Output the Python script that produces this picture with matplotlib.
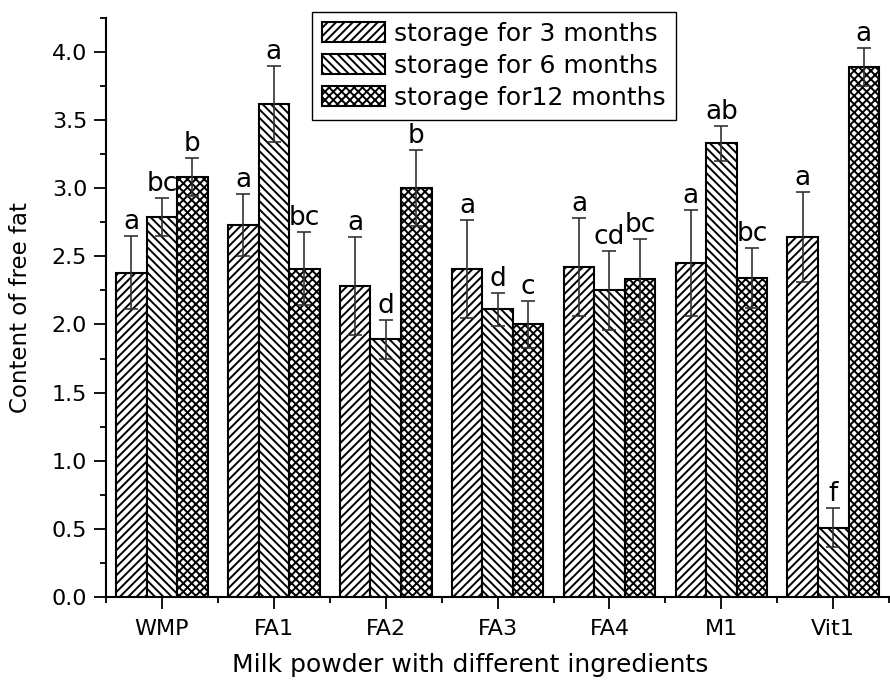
import matplotlib
matplotlib.use("Agg")
import matplotlib.pyplot as plt
from matplotlib.ticker import MultipleLocator, FixedLocator, FormatStrFormatter
import numpy as np

# data
samples = ["WMP", "FA1", "FA2", "FA3", "FA4", "M1", "Vit1"]
series_labels = ["storage for 3 months", "storage for 6 months", "storage for12 months"]

fat_3m = [2.38, 2.73, 2.28, 2.41, 2.42, 2.45, 2.64]
fat_6m = [2.79, 3.62, 1.89, 2.11, 2.25, 3.33, 0.51]
fat_12m = [3.08, 2.41, 3.00, 2.00, 2.33, 2.34, 3.89]

err_3m = [0.27, 0.23, 0.36, 0.36, 0.36, 0.39, 0.33]
err_6m = [0.14, 0.28, 0.14, 0.12, 0.29, 0.13, 0.14]
err_12m = [0.14, 0.27, 0.28, 0.17, 0.30, 0.22, 0.14]

sig_3m = ["a", "a", "a", "a", "a", "a", "a"]
sig_6m = ["bc", "a", "d", "d", "cd", "ab", "f"]
sig_12m = ["b", "bc", "b", "c", "bc", "bc", "a"]

plt.rcParams["hatch.linewidth"] = 1.4
plt.rcParams["font.family"] = "DejaVu Sans"

fig = plt.figure(figsize=(8.9, 6.87), dpi=100)
ax = fig.add_axes([0.1191, 0.131, 0.880, 0.843])

x = np.arange(len(samples))
width = 0.273
hatches = ["////", "\\\\\\\\", "xxxx"]
means = [fat_3m, fat_6m, fat_12m]
errs = [err_3m, err_6m, err_12m]
sigs = [sig_3m, sig_6m, sig_12m]

for i in range(3):
    xs = x + (i - 1) * width
    ax.bar(xs, means[i], width, color="white", edgecolor="black",
           linewidth=1.5, hatch=hatches[i], label=series_labels[i], zorder=2)
    ax.errorbar(xs, means[i], yerr=errs[i], fmt="none", ecolor="#333333",
                elinewidth=1.2, capsize=5, capthick=1.2, zorder=3)
    for xi, m, e, s in zip(xs, means[i], errs[i], sigs[i]):
        ax.annotate(s, (xi, m + e), xytext=(0, 5), textcoords="offset points",
                    ha="center", va="baseline", fontsize=19)

ax.set_xlim(-0.5, 6.5)
ax.set_ylim(0, 4.25)
ax.set_xticks(x)
ax.set_xticklabels(samples)
ax.xaxis.set_minor_locator(FixedLocator(np.arange(-0.5, 7.0, 1.0)))
ax.yaxis.set_major_locator(MultipleLocator(0.5))
ax.yaxis.set_minor_locator(MultipleLocator(0.25))
ax.yaxis.set_major_formatter(FormatStrFormatter("%.1f"))

ax.tick_params(which="major", length=8.5, width=1.3, labelsize=16, pad=5)
ax.tick_params(which="minor", length=4.3, width=1.3)
ax.tick_params(axis="x", which="major", pad=7)

for side in ["top", "right"]:
    ax.spines[side].set_visible(False)
for side in ["left", "bottom"]:
    ax.spines[side].set_linewidth(1.5)

ax.set_xlabel("Milk powder with different ingredients", fontsize=18)
ax.xaxis.set_label_coords(0.465, -0.097)
ax.set_ylabel("Content of free fat", fontsize=16.5)
ax.yaxis.set_label_coords(-0.095, 0.5)

leg = ax.legend(loc="upper left", bbox_to_anchor=(312 / 890, 1 - 12 / 687),
                bbox_transform=fig.transFigure, fontsize=18, frameon=True,
                fancybox=False, edgecolor="black", framealpha=1,
                handlelength=2.5, handleheight=0.85, handletextpad=0.4,
                labelspacing=0.32, borderaxespad=0)
leg.get_frame().set_linewidth(1.0)

fig.savefig("out.png", dpi=100)
